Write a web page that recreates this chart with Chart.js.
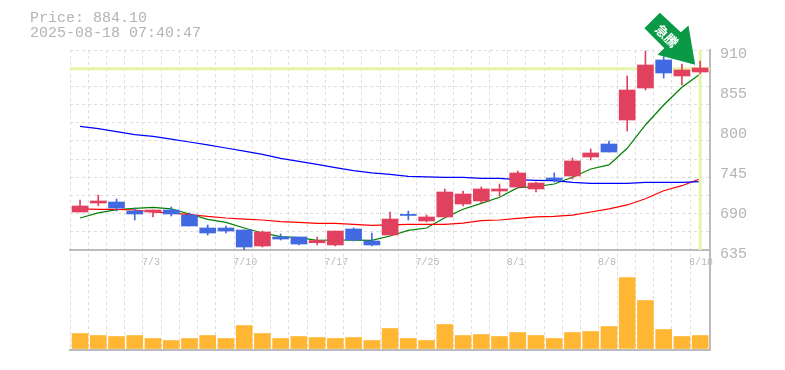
<!DOCTYPE html>
<html>
<head>
<meta charset="utf-8">
<title>Price chart</title>
<script src="https://cdn.jsdelivr.net/npm/chart.js@4"></script>
<style>
    html, body { margin: 0; padding: 0; background: #fff; }
    #wrap { position: relative; width: 785px; height: 370px; overflow: hidden; }
    #chart { position: absolute; left: 0; top: 0; }
    #info {
        position: absolute; left: 30px; top: 11px;
        font: 15px/15px "Liberation Mono", monospace; color: #b4b4b4; white-space: pre;
    }
</style>
</head>
<body>
<div id="wrap">
    <canvas id="chart" width="785" height="370"></canvas>
    <div id="info">Price: 884.10
2025-08-18 07:40:47</div>
</div>
<script>
const lastPrice = 884.1;
const dateTicks = { 4: "7/3", 9: "7/10", 14: "7/17", 19: "7/25", 24: "8/1", 29: "8/8", 34: "8/18" };
const priceLabels = [635, 690, 745, 800, 855, 910];
const priceGrid = [635, 660, 685, 710, 735, 760, 785, 810, 835, 860, 885, 910];

const opens = [687.25, 699.6, 701, 688.6, 687.25, 690, 683.1, 665.25, 665.25, 662.5, 640.5, 652.9, 652.9, 645, 641.9, 663.9, 647.4, 655.6, 684, 674.9, 680.4, 698.25, 702.4, 716.1, 721.6, 718.9, 734, 736.75, 762.9, 780.75, 813.75, 857.75, 896.3, 874.25, 879.75];
const closes = [695.5, 702.4, 692.75, 684.5, 690, 684.5, 668, 658.4, 661.1, 639.1, 659.75, 650.1, 643.25, 648, 661.1, 648.75, 641.9, 677.6, 682.5, 680.4, 714.75, 712, 718.9, 718.9, 740.9, 727.1, 731.25, 757.4, 768.4, 769.75, 855, 889.4, 878.4, 882.5, 885.3];
const highs = [703.75, 710.6, 705.1, 692.75, 690, 694.1, 685.9, 669.4, 668, 662.5, 661.1, 657, 652.9, 652.9, 661.1, 665.25, 658.4, 687.25, 688.6, 683.1, 718.9, 716.1, 721.6, 725.75, 743.6, 728.5, 740.9, 761.5, 773.9, 784.9, 874.25, 908.6, 901, 890.8, 894.9];
const lows = [687.25, 696, 688.6, 676.25, 680.4, 681.75, 668, 655.6, 658.4, 633.6, 639.1, 648.75, 641.9, 641.9, 640.5, 647.4, 640.5, 655.6, 676.25, 673.5, 680.4, 695.5, 699.6, 709.25, 720.25, 714.75, 728.5, 732.6, 758.75, 769.75, 798.6, 855, 871.5, 861.9, 877];
const maShort = [679, 685.9, 690.4, 692.3, 693.7, 691.4, 684.5, 677.2, 673.1, 665.25, 658.4, 653.3, 651.9, 648.3, 648.75, 648.75, 648.3, 654.25, 662.1, 665.25, 679.4, 691, 699.2, 707.5, 720.7, 722, 725.75, 735, 746.4, 751.9, 774.8, 806.9, 834.4, 858.7, 877];
const maMid = [691.4, 690.7, 690.7, 690, 687.25, 685.9, 683.8, 681.1, 679, 677.6, 676.25, 673.9, 673.1, 671.7, 671.7, 670.3, 669, 669.4, 670.3, 670.3, 670.3, 672.1, 675.3, 676.25, 678.6, 680.4, 681.3, 683.1, 687.25, 691.4, 696.9, 705.5, 716.5, 723.4, 733];
const maLong = [805.1, 801.8, 797.7, 793.5, 791.3, 787.6, 783.5, 779.4, 775.25, 771.1, 766.6, 761.1, 756.9, 752.8, 748.2, 744, 740.9, 739.1, 736.3, 735.4, 735, 735, 733.6, 733.6, 731.7, 730.8, 730.3, 728.1, 726.7, 726.7, 726.7, 728.1, 728.1, 728.1, 728.9];
const volumes = [15, 13, 12, 13, 10, 8, 10, 13, 10, 23, 15, 10, 12, 11, 10, 11, 8, 20, 10, 8, 24, 13, 14, 12, 16, 13, 10, 16, 17, 22, 71, 48, 19, 12, 13];

const RED = "#e2405f";
const BLUE = "#4169e1";
const AXIS = "#bbb";
const GRID = "#ddd";
const MARK = "#e4f4a8";
const xMax = 35.09;
const fontMono = "'Liberation Mono', monospace";

const center = i => i + 0.55;
const candleColor = opens.map((o, i) => closes[i] >= o ? RED : BLUE);
const pts = arr => arr.map((v, i) => ({ x: center(i), y: v }));

const lineSet = (data, color, width) => ({
    type: "line", data: data, yAxisID: "y", borderColor: color, borderWidth: width,
    pointRadius: 0, tension: 0, order: 5
});

// arrow sits on top of the last candles, drawn relative to the last point
const arrowPlugin = {
    id: "arrow",
    afterDatasetsDraw(chart) {
        const ctx = chart.ctx;
        const tipX = chart.scales.x.getPixelForValue(center(34)) - 5;
        const tipY = chart.scales.y.getPixelForValue(lastPrice) - 4;
        const shape = [[0, 0], [-37.7, -10], [-30.8, -16.5], [-50.8, -36.5], [-35.3, -52], [-14.3, -32.7], [-6.7, -39.4]];
        ctx.save();
        ctx.fillStyle = "#0a9a45";
        ctx.beginPath();
        shape.forEach((p, i) => i ? ctx.lineTo(tipX + p[0], tipY + p[1]) : ctx.moveTo(tipX + p[0], tipY + p[1]));
        ctx.closePath();
        ctx.fill();
        ctx.translate(tipX - 28.5, tipY - 29);
        ctx.rotate(Math.PI / 4);
        ctx.fillStyle = "#fff";
        ctx.font = "bold 13px 'Noto Sans CJK JP'";
        ctx.textAlign = "center";
        ctx.textBaseline = "middle";
        ctx.fillText("急騰", 0, 0);
        ctx.restore();
    }
};

new Chart(document.getElementById("chart"), {
    data: {
        datasets: [
            lineSet([{ x: 0, y: lastPrice }, { x: xMax, y: lastPrice }], MARK, 3),
            lineSet([{ x: center(34), y: 635 }, { x: center(34), y: 910 }], MARK, 3),
            lineSet(pts(maLong), "#0000ff", 1.25),
            lineSet(pts(maMid), "#ff0000", 1.25),
            lineSet(pts(maShort), "#008000", 1.25),
            {
                type: "bar", yAxisID: "y", order: 2, barThickness: 1, grouped: false,
                data: lows.map((l, i) => ({ x: center(i), y: [l, highs[i]] })),
                backgroundColor: candleColor
            },
            {
                type: "bar", yAxisID: "y", order: 1, barThickness: 16, grouped: false,
                data: opens.map((o, i) => ({ x: center(i), y: [o, closes[i]] })),
                backgroundColor: candleColor
            },
            {
                type: "bar", yAxisID: "yVol", order: 3, barThickness: 16, grouped: false,
                data: pts(volumes),
                backgroundColor: "#ffb733"
            }
        ]
    },
    options: {
        responsive: false,
        animation: false,
        events: [],
        layout: { padding: { left: 70, top: 50, right: 0, bottom: 19 } },
        plugins: { legend: { display: false }, title: { display: false }, tooltip: { enabled: false } },
        scales: {
            x: {
                type: "linear",
                offset: false,
                min: 0,
                max: xMax,
                position: { y: 635 },
                afterBuildTicks: scale => {
                    scale.ticks = volumes.map((v, i) => ({ value: i }));
                },
                grid: { color: GRID, lineWidth: 1, drawTicks: false, offset: false },
                border: { color: AXIS, width: 2, dash: [3, 3] },
                ticks: {
                    autoSkip: false,
                    maxRotation: 0,
                    align: "start",
                    padding: 6,
                    labelOffset: -1,
                    color: AXIS,
                    font: { family: fontMono, size: 10 },
                    callback: v => dateTicks[v] || ""
                }
            },
            xBottom: {
                type: "linear",
                axis: "x",
                position: "bottom",
                offset: false,
                min: 0,
                max: xMax,
                grid: { display: false, drawTicks: false },
                border: { color: AXIS, width: 2 },
                ticks: { display: false },
                afterFit: scale => { scale.height = 1; }
            },
            y: {
                type: "linear",
                position: "right",
                stack: "panels",
                stackWeight: 2,
                min: 635,
                max: 910,
                afterBuildTicks: scale => {
                    const all = [...new Set([...priceGrid, ...priceLabels])].sort((a, b) => a - b);
                    scale.ticks = all.map(v => ({ value: v }));
                },
                afterFit: scale => { scale.width = 75; },
                grid: {
                    drawTicks: false,
                    color: ctx => priceGrid.includes(ctx.tick.value) ? GRID : "transparent"
                },
                border: { color: AXIS, width: 2, dash: [3, 3] },
                ticks: {
                    autoSkip: false,
                    padding: 10,
                    labelOffset: 4,
                    color: "#b4b4b4",
                    font: { family: fontMono, size: 15 },
                    callback: v => priceLabels.includes(v) ? String(v) : ""
                }
            },
            yVol: {
                type: "linear",
                position: "right",
                stack: "panels",
                stackWeight: 1,
                min: -1.5,
                max: 98.5,
                afterFit: scale => { scale.width = 75; },
                grid: { display: false, drawTicks: false },
                border: { color: AXIS, width: 2 },
                ticks: { display: false }
            }
        }
    },
    plugins: [arrowPlugin]
});
</script>
</body>
</html>
